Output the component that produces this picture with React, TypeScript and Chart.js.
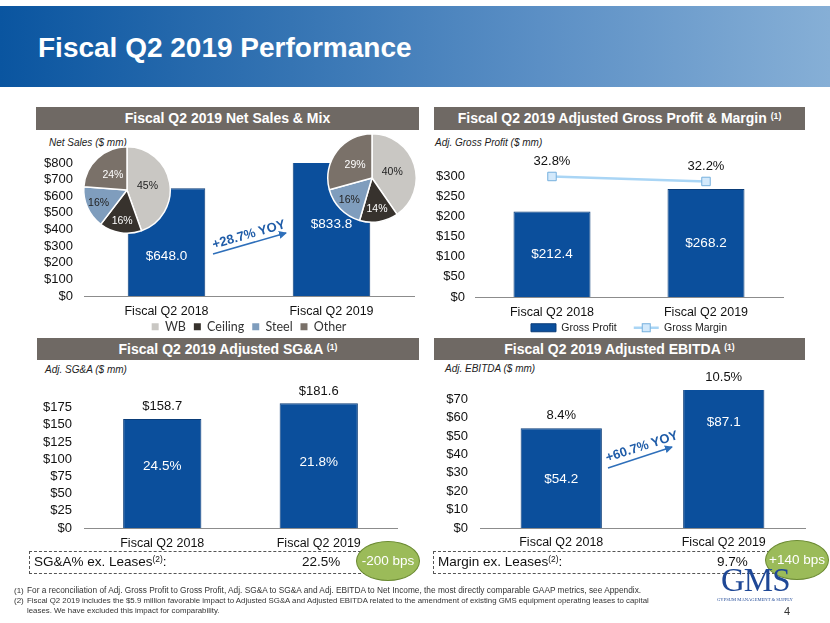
import React, { useEffect, useRef } from 'react';
import { Chart, registerables } from 'chart.js';

Chart.register(...registerables);

const FONT = '"Liberation Sans", Arial, Helvetica, sans-serif';
Chart.defaults.font.family = FONT;

// ---------- data ----------
const categories = ['Fiscal Q2 2018', 'Fiscal Q2 2019'];
const netSales = [648.0, 833.8];
const netSalesTicks = [0, 100, 200, 300, 400, 500, 600, 700, 800];
const mixLabels = ['WB', 'Ceiling', 'Steel', 'Other'];
const mix2018 = [45, 16, 16, 24];
const mix2019 = [40, 14, 16, 29];
const grossProfit = [212.4, 268.2];
const grossMargin = [32.8, 32.2];
const grossTicks = [0, 50, 100, 150, 200, 250, 300];
const sga = [158.7, 181.6];
const sgaPctOfSales = [24.5, 21.8];
const sgaTicks = [0, 25, 50, 75, 100, 125, 150, 175];
const ebitda = [54.2, 87.1];
const ebitdaMargin = [8.4, 10.5];
const ebitdaTicks = [0, 10, 20, 30, 40, 50, 60, 70];

// ---------- style ----------
const BAR = '#0b4f9c';
const BAR_BORDER = '#0a3c78';
const MIX_COLORS = ['#c9c7c3', '#37322d', '#7f9dbd', '#7a7169'];
const MIX_TEXT = ['#222222', '#ffffff', '#222222', '#ffffff'];
const LINE_COLOR = '#a9d5f5';
const TEXT = '#111111';

const money = (v: number) => '$' + v.toFixed(1);
const pct = (v: number) => v.toFixed(1) + '%';

type LabelSpec = {
  dataset: number;
  texts: string[];
  mode: 'inside' | 'above';
  offsets?: number[];
  color: string;
  size: number;
};

function labelPlugin(specs: LabelSpec[]) {
  return {
    id: 'valueLabels',
    afterDatasetsDraw(chart: any) {
      const { ctx, chartArea } = chart;
      specs.forEach((s) => {
        const meta = chart.getDatasetMeta(s.dataset);
        meta.data.forEach((el: any, i: number) => {
          const top = Math.max(el.y, chartArea.top);
          let y = s.mode === 'inside' ? (top + el.base) / 2 : top;
          y += s.offsets ? s.offsets[i] : 0;
          ctx.save();
          ctx.font = `${s.size}px ${FONT}`;
          ctx.fillStyle = s.color;
          ctx.textAlign = 'center';
          ctx.textBaseline = 'middle';
          ctx.fillText(s.texts[i], el.x, y);
          ctx.restore();
        });
      });
    },
  };
}

function pieLabelPlugin(texts: string[], colors: string[], values: number[]) {
  return {
    id: 'pieLabels',
    afterDatasetsDraw(chart: any) {
      const { ctx } = chart;
      const meta = chart.getDatasetMeta(0);
      meta.data.forEach((el: any, i: number) => {
        const mid = (el.startAngle + el.endAngle) / 2;
        const frac = values[i] >= 20 ? 0.48 : 0.72;
        const r = el.outerRadius * frac;
        ctx.save();
        ctx.font = `10.5px ${FONT}`;
        ctx.fillStyle = colors[i];
        ctx.textAlign = 'center';
        ctx.textBaseline = 'middle';
        ctx.fillText(texts[i], el.x + Math.cos(mid) * r, el.y + Math.sin(mid) * r);
        ctx.restore();
      });
    },
  };
}

const marginMarkerPlugin = {
  id: 'marginLegendMarker',
  afterDraw(chart: any) {
    const boxes = chart.legend && chart.legend.legendHitBoxes;
    if (!boxes || !boxes[1]) return;
    const b = boxes[1];
    const cx = b.left + 12.5;
    const cy = b.top + b.height / 2;
    const { ctx } = chart;
    ctx.save();
    ctx.fillStyle = '#d3e9fb';
    ctx.strokeStyle = '#76b0de';
    ctx.lineWidth = 1;
    ctx.fillRect(cx - 4, cy - 4, 8, 8);
    ctx.strokeRect(cx - 4, cy - 4, 8, 8);
    ctx.restore();
  },
};

function xAxis(pad: number, height: number) {
  return {
    grid: { display: false, drawTicks: false },
    border: { display: true, color: '#8c8c8c', width: 1 },
    ticks: { color: TEXT, font: { size: 12.5 }, padding: pad, autoSkip: false, maxRotation: 0 },
    afterFit: (s: any) => {
      s.height = height;
    },
  };
}

function yAxis(max: number, tickValues: number[], width: number, pad: number) {
  return {
    min: 0,
    max,
    bounds: 'data',
    grid: { display: false, drawTicks: false },
    border: { display: false },
    ticks: {
      autoSkip: false,
      color: TEXT,
      font: { size: 13 },
      padding: pad,
      callback: (v: any) => '$' + v,
    },
    afterBuildTicks: (s: any) => {
      s.ticks = tickValues.map((v) => ({ value: v }));
    },
    afterFit: (s: any) => {
      s.width = width;
    },
  };
}

function barDataset(label: string, data: number[], barPct: number) {
  return {
    type: 'bar',
    label,
    data,
    backgroundColor: BAR,
    borderColor: BAR_BORDER,
    borderWidth: 1,
    categoryPercentage: 1,
    barPercentage: barPct,
    order: 1,
  };
}

const netSalesConfig = () => ({
  type: 'bar',
  data: { labels: categories, datasets: [barDataset('Net Sales', netSales, 0.47)] },
  options: {
    responsive: false,
    animation: false,
    layout: { padding: { top: 28, right: 6, left: 0, bottom: 0 } },
    scales: { x: xAxis(8.5, 23), y: yAxis(800, netSalesTicks, 64, 11) },
    plugins: {
      tooltip: { enabled: false },
      legend: {
        position: 'bottom',
        fullSize: false,
        labels: {
          boxWidth: 7,
          boxHeight: 7,
          padding: 1.5,
          color: '#333',
          font: { family: 'Lato, "Open Sans", sans-serif', size: 12.5 },
          generateLabels: () =>
            mixLabels.map((t, i) => ({
              text: i < mixLabels.length - 1 ? t + '  ' : t,
              fillStyle: MIX_COLORS[i],
              strokeStyle: MIX_COLORS[i],
              lineWidth: 0,
              hidden: false,
              fontColor: '#333',
              datasetIndex: 0,
            })),
        },
      },
    },
  },
  plugins: [
    labelPlugin([
      { dataset: 0, texts: netSales.map(money), mode: 'inside', offsets: [14, -5], color: '#ffffff', size: 13.5 },
    ]),
  ],
});

const mixConfig = (values: number[]) => () => ({
  type: 'pie',
  data: {
    labels: mixLabels,
    datasets: [{ data: values, backgroundColor: MIX_COLORS, borderColor: '#ffffff', borderWidth: 1.5 }],
  },
  options: {
    responsive: false,
    animation: false,
    layout: { padding: 1 },
    plugins: { legend: { display: false }, tooltip: { enabled: false } },
  },
  plugins: [pieLabelPlugin(values.map((v) => v + '%'), MIX_TEXT, values)],
});

const grossConfig = () => ({
  type: 'bar',
  data: {
    labels: categories,
    datasets: [
      {
        type: 'line',
        label: 'Gross Margin',
        data: grossMargin,
        yAxisID: 'y2',
        borderColor: LINE_COLOR,
        borderWidth: 2.5,
        pointStyle: 'rect',
        pointRadius: 6,
        pointBackgroundColor: '#d3e9fb',
        pointBorderColor: '#76b0de',
        pointBorderWidth: 1,
        order: 0,
      },
      { ...barDataset('Gross Profit', grossProfit, 0.5), yAxisID: 'y' },
    ],
  },
  options: {
    responsive: false,
    animation: false,
    layout: { padding: { top: 29, right: 7, left: 0, bottom: 0 } },
    scales: {
      x: xAxis(8, 23),
      y: yAxis(330, grossTicks, 50, 10),
      y2: { display: false, min: 18.3, max: 34.3, bounds: 'data' },
    },
    plugins: {
      tooltip: { enabled: false },
      legend: {
        position: 'bottom',
        fullSize: false,
        labels: {
          usePointStyle: true,
          pointStyleWidth: 25,
          boxHeight: 8,
          padding: 2.5,
          color: '#222',
          font: { size: 10.5 },
          generateLabels: () => [
            { text: 'Gross Profit     ', fillStyle: BAR, strokeStyle: BAR_BORDER, lineWidth: 1, pointStyle: 'rect', hidden: false, fontColor: '#222', datasetIndex: 1 },
            { text: 'Gross Margin', fillStyle: LINE_COLOR, strokeStyle: LINE_COLOR, lineWidth: 2.5, pointStyle: 'line', hidden: false, fontColor: '#222', datasetIndex: 0 },
          ],
        },
      },
    },
  },
  plugins: [
    labelPlugin([
      { dataset: 1, texts: grossProfit.map(money), mode: 'inside', color: '#ffffff', size: 13.5 },
      { dataset: 0, texts: grossMargin.map(pct), mode: 'above', offsets: [-15, -15], color: TEXT, size: 13 },
    ]),
    marginMarkerPlugin,
  ],
});

const sgaConfig = () => ({
  type: 'bar',
  data: { labels: categories, datasets: [barDataset('Adj. SG&A', sga, 0.5)] },
  options: {
    responsive: false,
    animation: false,
    layout: { padding: { top: 22.4, right: 8, left: 0, bottom: 0 } },
    scales: { x: xAxis(8.5, 23), y: yAxis(190, sgaTicks, 64, 12) },
    plugins: { tooltip: { enabled: false }, legend: { display: false } },
  },
  plugins: [
    labelPlugin([
      { dataset: 0, texts: sga.map(money), mode: 'above', offsets: [-12, -12], color: TEXT, size: 13 },
      { dataset: 0, texts: sgaPctOfSales.map(pct), mode: 'inside', offsets: [-7, -3], color: '#ffffff', size: 13.5 },
    ]),
  ],
});

const ebitdaConfig = () => ({
  type: 'bar',
  data: { labels: categories, datasets: [barDataset('Adj. EBITDA', ebitda, 0.5)] },
  options: {
    responsive: false,
    animation: false,
    layout: { padding: { top: 30, right: 7, left: 0, bottom: 0 } },
    scales: { x: xAxis(7.5, 23), y: yAxis(75, ebitdaTicks, 55, 12) },
    plugins: { tooltip: { enabled: false }, legend: { display: false } },
  },
  plugins: [
    labelPlugin([
      { dataset: 0, texts: ebitdaMargin.map(pct), mode: 'above', offsets: [-13, -13], color: TEXT, size: 13 },
      { dataset: 0, texts: ebitda.map(money), mode: 'inside', offsets: [1, -37], color: '#ffffff', size: 13.5 },
    ]),
  ],
});

// ---------- components ----------
function ChartCanvas({ x, y, w, h, config }: any) {
  const ref = useRef<HTMLCanvasElement>(null);
  useEffect(() => {
    const chart = new Chart(ref.current as HTMLCanvasElement, config() as any);
    return () => chart.destroy();
  }, []);
  return (
    <canvas
      ref={ref}
      width={w}
      height={h}
      style={{ position: 'absolute', left: x, top: y, width: w, height: h }}
    />
  );
}

function Txt({ x, y, size, children, style }: any) {
  return (
    <div
      style={{
        position: 'absolute',
        left: x,
        top: y - size * 0.6,
        fontSize: size,
        lineHeight: `${size * 1.2}px`,
        whiteSpace: 'nowrap',
        ...style,
      }}
    >
      {children}
    </div>
  );
}

const Sup = ({ children }: any) => (
  <span style={{ fontSize: '0.62em', position: 'relative', top: '-0.5em' }}>{children}</span>
);

function Header({ x, y, w, h, children }: any) {
  return (
    <div
      style={{
        position: 'absolute',
        left: x,
        top: y,
        width: w,
        height: h,
        background: '#6f6964',
        color: '#ffffff',
        fontWeight: 'bold',
        fontSize: 14,
        lineHeight: `${h}px`,
        textAlign: 'center',
        whiteSpace: 'nowrap',
      }}
    >
      {children}
    </div>
  );
}

function Ellipse({ cx, cy, rx, ry, text }: any) {
  return (
    <div
      style={{
        position: 'absolute',
        left: cx - rx,
        top: cy - ry,
        width: rx * 2,
        height: ry * 2,
        boxSizing: 'border-box',
        borderRadius: '50%',
        background: '#9bbb59',
        border: '1.5px solid #6b8a32',
        color: '#ffffff',
        fontSize: 13.5,
        lineHeight: `${ry * 2 - 3}px`,
        textAlign: 'center',
        whiteSpace: 'nowrap',
      }}
    >
      {text}
    </div>
  );
}

export default function App() {
  return (
    <div
      style={{
        position: 'absolute',
        left: 0,
        top: 0,
        width: 830,
        height: 623,
        overflow: 'hidden',
        background: '#ffffff',
        fontFamily: FONT,
        color: TEXT,
      }}
    >
      {/* title banner */}
      <div
        style={{
          position: 'absolute',
          left: 0,
          top: 6,
          width: 830,
          height: 81,
          background: 'linear-gradient(90deg, #0a55a0 0%, #3574b3 35%, #5b8fc5 65%, #86afd6 100%)',
        }}
      />
      <Txt x={38} y={48} size={28} style={{ color: '#ffffff', fontWeight: 'bold' }}>
        Fiscal Q2 2019 Performance
      </Txt>

      {/* section headers */}
      <Header x={36} y={107} w={383} h={23}>Fiscal Q2 2019 Net Sales &amp; Mix</Header>
      <Header x={434} y={107} w={371} h={23}>
        Fiscal Q2 2019 Adjusted Gross Profit &amp; Margin <Sup>(1)</Sup>
      </Header>
      <Header x={37} y={338} w={382} h={22}>
        Fiscal Q2 2019 Adjusted SG&amp;A <Sup>(1)</Sup>
      </Header>
      <Header x={434} y={338} w={371} h={22}>
        Fiscal Q2 2019 Adjusted EBITDA <Sup>(1)</Sup>
      </Header>

      {/* axis captions */}
      <Txt x={49} y={143} size={10} style={{ fontStyle: 'italic', color: '#222' }}>Net Sales ($ mm)</Txt>
      <Txt x={435} y={143} size={10} style={{ fontStyle: 'italic', color: '#222' }}>Adj. Gross Profit ($ mm)</Txt>
      <Txt x={45} y={370} size={10} style={{ fontStyle: 'italic', color: '#222' }}>Adj. SG&amp;A ($ mm)</Txt>
      <Txt x={445} y={369} size={10} style={{ fontStyle: 'italic', color: '#222' }}>Adj. EBITDA ($ mm)</Txt>

      {/* charts */}
      <ChartCanvas x={20} y={135} w={400} h={208} config={netSalesConfig} />
      <ChartCanvas x={425} y={135} w={365} h={208} config={grossConfig} />
      <ChartCanvas x={20} y={375} w={385} h={176} config={sgaConfig} />
      <ChartCanvas x={425} y={360} w={387} h={191} config={ebitdaConfig} />
      <ChartCanvas x={82} y={145} w={90} h={90} config={mixConfig(mix2018)} />
      <ChartCanvas x={326} y={132} w={92} h={92} config={mixConfig(mix2019)} />

      {/* YOY arrows */}
      <svg style={{ position: 'absolute', left: 0, top: 0 }} width={830} height={623}>
        <defs>
          <marker id="ah" markerWidth="8" markerHeight="8" refX="7" refY="4" orient="auto" markerUnits="userSpaceOnUse">
            <path d="M0,0 L8,4 L0,8 z" fill="#2e6fba" />
          </marker>
        </defs>
        <line x1={213} y1={254} x2={286} y2={233} stroke="#2e6fba" strokeWidth={1.5} markerEnd="url(#ah)" />
        <text
          x={249}
          y={235}
          transform="rotate(-16 249 235)"
          textAnchor="middle"
          dominantBaseline="middle"
          fontFamily={FONT}
          fontWeight="bold"
          fontSize={13}
          fill="#1f5ca8"
        >
          +28.7% YOY
        </text>
        <line x1={608} y1={468} x2={672} y2={447} stroke="#2e6fba" strokeWidth={1.5} markerEnd="url(#ah)" />
        <text
          x={642}
          y={447}
          transform="rotate(-18 642 447)"
          textAnchor="middle"
          dominantBaseline="middle"
          fontFamily={FONT}
          fontWeight="bold"
          fontSize={13}
          fill="#1f5ca8"
        >
          +60.7% YOY
        </text>
      </svg>

      {/* dashed summary boxes */}
      <div style={{ position: 'absolute', left: 29, top: 551, width: 350, height: 21, border: '1px dashed #555' }} />
      <div style={{ position: 'absolute', left: 433, top: 551, width: 345, height: 21, border: '1px dashed #555' }} />
      <Txt x={34} y={562} size={13.5}>
        SG&amp;A% ex. Leases<Sup>(2)</Sup>:
      </Txt>
      <Txt x={302} y={562} size={13.5}>22.5%</Txt>
      <Txt x={438} y={562} size={13.5}>
        Margin ex. Leases<Sup>(2)</Sup>:
      </Txt>
      <Txt x={717} y={562} size={13.5}>9.7%</Txt>
      <Ellipse cx={388} cy={561} rx={32} ry={20} text="-200 bps" />
      <Ellipse cx={797} cy={560} rx={32} ry={20} text="+140 bps" />

      {/* footnotes */}
      <Txt x={14} y={591} size={8} style={{ color: '#333' }}>(1)</Txt>
      <Txt x={27} y={591} size={8.3} style={{ color: '#333' }}>
        For a reconciliation of Adj. Gross Profit to Gross Profit, Adj. SG&amp;A to SG&amp;A and Adj. EBITDA to Net Income, the most directly comparable GAAP metrics, see Appendix.
      </Txt>
      <Txt x={14} y={601} size={8} style={{ color: '#333' }}>(2)</Txt>
      <Txt x={27} y={601} size={7.85} style={{ color: '#333' }}>
        Fiscal Q2 2019 includes the $5.9 million favorable impact to Adjusted SG&amp;A and Adjusted EBITDA related to the amendment of existing GMS equipment operating leases to capital
      </Txt>
      <Txt x={27} y={611} size={7.85} style={{ color: '#333' }}>
        leases. We have excluded this impact for comparability.
      </Txt>

      {/* logo */}
      <Txt x={721} y={581} size={33} style={{ fontFamily: '"Liberation Serif", "DejaVu Serif", serif', color: '#1f4896', letterSpacing: -1 }}>
        GMS
      </Txt>
      <Txt x={717} y={600} size={4.6} style={{ fontFamily: '"Liberation Serif", serif', color: '#1f4896' }}>
        GYPSUM MANAGEMENT &amp; SUPPLY
      </Txt>
      <Txt x={784} y={612} size={11} style={{ color: '#333' }}>4</Txt>
    </div>
  );
}
